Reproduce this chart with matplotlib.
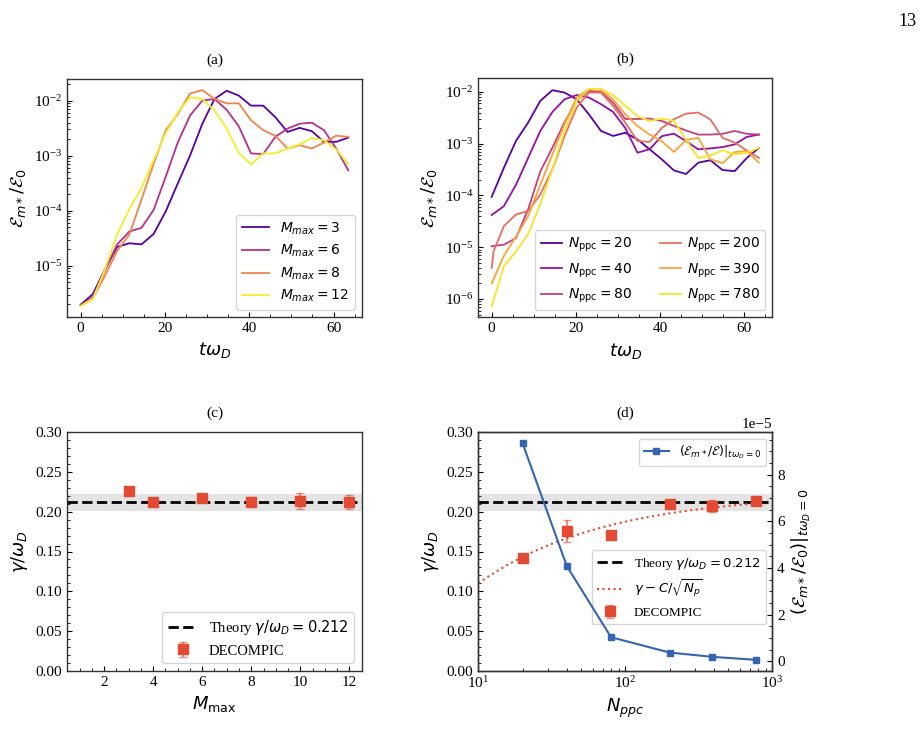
import numpy as np
import matplotlib
matplotlib.use('Agg')
import matplotlib.pyplot as plt
from matplotlib.ticker import MultipleLocator

plt.rcParams['font.family'] = 'serif'
plt.rcParams['font.serif'] = ['Liberation Serif', 'DejaVu Serif']
plt.rcParams['mathtext.fontset'] = 'dejavusans'
plt.rcParams['axes.edgecolor'] = '0.2'
plt.rcParams['axes.linewidth'] = 1.0
plt.rcParams['xtick.direction'] = 'in'
plt.rcParams['ytick.direction'] = 'in'
plt.rcParams['xtick.labelsize'] = 11
plt.rcParams['ytick.labelsize'] = 11

# ---------------- data ----------------
t = [0.0, 2.89, 5.77, 8.66, 11.55, 14.43, 17.32, 20.2, 23.09, 25.98, 28.86, 31.75,
     34.64, 37.52, 40.41, 43.3, 46.18, 49.07, 51.95, 54.84, 57.73, 60.61, 63.5]

# panel (a): energy vs time for different M_max
Mmax_labels = [3, 6, 8, 12]
E_M3 = [1.97e-6, 3.07e-6, 8.7e-6, 2.2e-5, 2.57e-5, 2.45e-5, 3.8e-5, 9.8e-5, 3.2e-4, 1.02e-3,
        3.8e-3, 1.07e-2, 1.51e-2, 1.23e-2, 8.1e-3, 8.1e-3, 5.0e-3, 2.7e-3, 3.2e-3, 2.78e-3,
        1.78e-3, 1.78e-3, 2.13e-3]
E_M6 = [1.9e-6, 2.7e-6, 8.3e-6, 2.45e-5, 4.2e-5, 4.9e-5, 1.04e-4, 4.2e-4, 1.78e-3, 5.4e-3,
        1.0e-2, 1.07e-2, 6.8e-3, 3.4e-3, 1.1e-3, 1.07e-3, 2.2e-3, 3.1e-3, 3.8e-3, 3.97e-3,
        2.9e-3, 1.35e-3, 5.4e-4]
E_M8 = [1.9e-6, 2.6e-6, 6.6e-6, 1.87e-5, 3.7e-5, 1.6e-4, 7.2e-4, 2.9e-3, 5.8e-3, 1.35e-2,
        1.55e-2, 1.07e-2, 8.9e-3, 8.9e-3, 4.4e-3, 2.9e-3, 2.3e-3, 1.35e-3, 1.55e-3, 1.35e-3,
        1.73e-3, 2.3e-3, 2.2e-3]
E_M12 = [1.85e-6, 2.5e-6, 8.7e-6, 3.7e-5, 1.07e-4, 2.6e-4, 8.3e-4, 2.6e-3, 6.2e-3, 1.15e-2,
         1.07e-2, 6.6e-3, 3.1e-3, 1.13e-3, 6.9e-4, 1.1e-3, 1.1e-3, 1.35e-3, 1.6e-3, 2.1e-3,
         1.9e-3, 1.3e-3, 7.0e-4]

# panel (b): energy vs time for different N_ppc
Nppc_labels = [20, 40, 80, 200, 390, 780]
E_N20 = [9.4e-5, 3.4e-4, 1.13e-3, 2.55e-3, 6.7e-3, 1.08e-2, 9.7e-3, 7.2e-3, 3.7e-3, 1.76e-3,
         1.41e-3, 1.63e-3, 1.21e-3, 7.8e-4, 5.0e-4, 3.05e-4, 2.6e-4, 4.3e-4, 4.8e-4, 3.1e-4,
         2.95e-4, 5.3e-4, 8.3e-4]
E_N40 = [4.2e-5, 6.2e-5, 1.6e-4, 5.3e-4, 1.76e-3, 4.1e-3, 7.2e-3, 8.7e-3, 7.8e-3, 5.8e-3,
         4.1e-3, 2.0e-3, 6.7e-4, 7.8e-4, 1.4e-3, 1.56e-3, 1.12e-3, 7.8e-4, 8.1e-4, 8.6e-4,
         9.7e-4, 1.35e-3, 1.5e-3]
E_N80 = [1.05e-5, 1.12e-5, 1.5e-5, 5.4e-5, 2.9e-4, 8.4e-4, 2.6e-3, 6.7e-3, 1.05e-2, 1.0e-2,
         6.2e-3, 3.0e-3, 3.0e-3, 3.05e-3, 2.75e-3, 2.2e-3, 1.8e-3, 1.5e-3, 1.5e-3, 1.55e-3,
         1.76e-3, 1.55e-3, 1.5e-3]
t_N200 = [0.0, 0.45] + t[1:]
E_N200 = [4.0e-6, 8.3e-6, 2.55e-5, 4.3e-5, 5.0e-5, 1.04e-4, 3.2e-4, 1.4e-3, 5.0e-3, 9.7e-3,
          9.7e-3, 5.35e-3, 2.55e-3, 1.13e-3, 1.08e-3, 2.0e-3, 2.95e-3, 3.8e-3, 4.0e-3, 2.95e-3,
          1.3e-3, 1.05e-3, 7.4e-4, 5.3e-4]
E_N390 = [2.0e-6, 6.8e-6, 1.6e-5, 4.0e-5, 1.6e-4, 6.2e-4, 2.4e-3, 7.8e-3, 1.13e-2, 1.1e-2,
          7.2e-3, 3.7e-3, 2.2e-3, 1.5e-3, 1.12e-3, 6.9e-4, 1.18e-3, 1.3e-3, 5.0e-4, 4.2e-4,
          6.9e-4, 7.2e-4, 4.3e-4]
E_N780 = [7.2e-7, 4.3e-6, 8.3e-6, 1.8e-5, 6.8e-5, 3.2e-4, 1.76e-3, 6.7e-3, 1.13e-2, 1.13e-2,
          8.7e-3, 5.4e-3, 3.4e-3, 2.75e-3, 3.05e-3, 2.75e-3, 1.2e-3, 5.3e-4, 5.9e-4, 7.5e-4,
          6.2e-4, 6.7e-4, 8.3e-4]

# panel (c): growth rate vs M_max
M_vals = [3, 4, 6, 8, 10, 12]
gamma_M = [0.2262, 0.2119, 0.2178, 0.2127, 0.2136, 0.2119]
gamma_M_err = [0.002, 0.002, 0.002, 0.006, 0.01, 0.009]

# panel (d): growth rate vs N_ppc
N_vals = [20, 40, 80, 200, 390, 780]
gamma_N = [0.1414, 0.1758, 0.1703, 0.2098, 0.2073, 0.2136]
gamma_N_err = [0.002, 0.0135, 0.002, 0.002, 0.007, 0.002]
E0_N = [9.35e-5, 4.085e-5, 1.04e-5, 3.84e-6, 2.0e-6, 7.0e-7]

theory = 0.212
band_frac = 0.05
fit_gamma_inf = 0.2234
fit_C = 0.3588

red = '#e24a33'
red_err = (0.886, 0.29, 0.2, 0.6)
blue = '#3465b0'

# ---------------- figure ----------------
W, H = 924, 755
fig = plt.figure(figsize=(W / 100, H / 100), dpi=100)

def rect(l, t_, r, b):
    return [l / W, 1 - b / H, (r - l) / W, (b - t_) / H]

axa = fig.add_axes(rect(67.3, 79.3, 361.7, 317))
axb = fig.add_axes(rect(478.3, 78.3, 772.3, 317.3))
axc = fig.add_axes(rect(67.3, 432.3, 361.7, 670.7))
axd = fig.add_axes(rect(478.3, 432.3, 772.3, 670.7))

fig.text(0.992, 0.983, '13', ha='right', va='top', fontsize=13)

TPAD = 11

# (a)
cols_a = plt.cm.plasma([0.15, 0.42, 0.7, 0.97])
for E, M, c in zip([E_M3, E_M6, E_M8, E_M12], Mmax_labels, cols_a):
    axa.plot(t, E, color=c, lw=1.3, label=r'$M_{max} = %d$' % M)
axa.set_yscale('log')
axa.set_xlabel(r'$t\omega_D$', fontsize=13)
axa.set_ylabel(r'$\mathcal{E}_{m*}/\mathcal{E}_0$', fontsize=13)
axa.set_title('(a)', fontsize=11, pad=TPAD)
axa.xaxis.set_major_locator(MultipleLocator(20))
axa.xaxis.set_minor_locator(MultipleLocator(5))
axa.legend(loc='lower right', fontsize=10, labelspacing=0.45)

# (b)
cols_b = plt.cm.plasma(np.linspace(0.15, 0.95, 6))
series_b = [(t, E_N20), (t, E_N40), (t, E_N80), (t_N200, E_N200), (t, E_N390), (t, E_N780)]
for (tt, E), N, c in zip(series_b, Nppc_labels, cols_b):
    axb.plot(tt, E, color=c, lw=1.3, label=r'$N_{\rm ppc} = %d$' % N)
axb.set_yscale('log')
axb.set_xlabel(r'$t\omega_D$', fontsize=13)
axb.set_ylabel(r'$\mathcal{E}_{m*}/\mathcal{E}_0$', fontsize=13)
axb.set_title('(b)', fontsize=11, pad=TPAD)
axb.xaxis.set_major_locator(MultipleLocator(20))
axb.xaxis.set_minor_locator(MultipleLocator(5))
axb.legend(loc='lower right', ncol=2, fontsize=10, handlelength=1.5,
           handletextpad=0.45, columnspacing=2.0)

# (c)
axc.axhspan(theory * (1 - band_frac), theory * (1 + band_frac), color='0.85', alpha=0.7, lw=0)
axc.axhline(theory, color='k', ls='--', lw=2, label=r'Theory $\gamma/\omega_D = 0.212$')
axc.errorbar(M_vals, gamma_M, yerr=gamma_M_err, fmt='s', color=red, ms=6.5,
             ecolor=red_err, elinewidth=1.5, capsize=3, label='DECOMPIC')
axc.set_xlim(0.5, 12.5)
axc.set_ylim(0, 0.3)
axc.xaxis.set_major_locator(MultipleLocator(2))
axc.xaxis.set_minor_locator(MultipleLocator(0.5))
axc.yaxis.set_major_locator(MultipleLocator(0.05))
axc.yaxis.set_minor_locator(MultipleLocator(0.01))
axc.yaxis.set_major_formatter(plt.FormatStrFormatter('%.2f'))
axc.set_xlabel(r'$M_{\rm max}$', fontsize=13)
axc.set_ylabel(r'$\gamma/\omega_D$', fontsize=13)
axc.set_title('(c)', fontsize=11, pad=TPAD)
axc.legend(loc='lower right', fontsize=10.5)

# (d)
axd.axhspan(theory * (1 - band_frac), theory * (1 + band_frac), color='0.85', alpha=0.7, lw=0)
l1 = axd.axhline(theory, color='k', ls='--', lw=2, label=r'Theory $\gamma/\omega_D = 0.212$')
Nfit = np.logspace(1, np.log10(800), 200)
l2, = axd.plot(Nfit, fit_gamma_inf - fit_C / np.sqrt(Nfit), color=red, ls=':', lw=1.5,
               label=r'$\gamma - C/\sqrt{N_p}$')
eb = axd.errorbar(N_vals, gamma_N, yerr=gamma_N_err, fmt='s', color=red, ms=6.7,
                  ecolor=red_err, elinewidth=1.5, capsize=3, label='DECOMPIC')
axd.set_xscale('log')
axd.set_xlim(10, 1000)
axd.set_ylim(0, 0.3)
axd.yaxis.set_major_locator(MultipleLocator(0.05))
axd.yaxis.set_minor_locator(MultipleLocator(0.01))
axd.yaxis.set_major_formatter(plt.FormatStrFormatter('%.2f'))
axd.set_xlabel(r'$N_{ppc}$', fontsize=13)
axd.set_ylabel(r'$\gamma/\omega_D$', fontsize=13)
axd.set_title('(d)', fontsize=11, pad=TPAD)
axd.legend(handles=[l1, l2, eb], loc='center right', bbox_to_anchor=(1.0, 0.35), fontsize=9.5)

ax2 = axd.twinx()
ax2.plot(N_vals, E0_N, color=blue, marker='s', ms=4.5, lw=1.5,
         label=r'$(\mathcal{E}_{m*}/\mathcal{E})|_{t\omega_D=0}$')
ax2.yaxis.set_major_locator(MultipleLocator(2e-5))
ax2.yaxis.set_minor_locator(MultipleLocator(0.5e-5))
ax2.set_ylabel(r'$(\mathcal{E}_{m*}/\mathcal{E}_0)|_{t\omega_D=0}$', fontsize=13)
ax2.legend(loc='upper right', fontsize=9)

fig.savefig('out.png', dpi=100)
